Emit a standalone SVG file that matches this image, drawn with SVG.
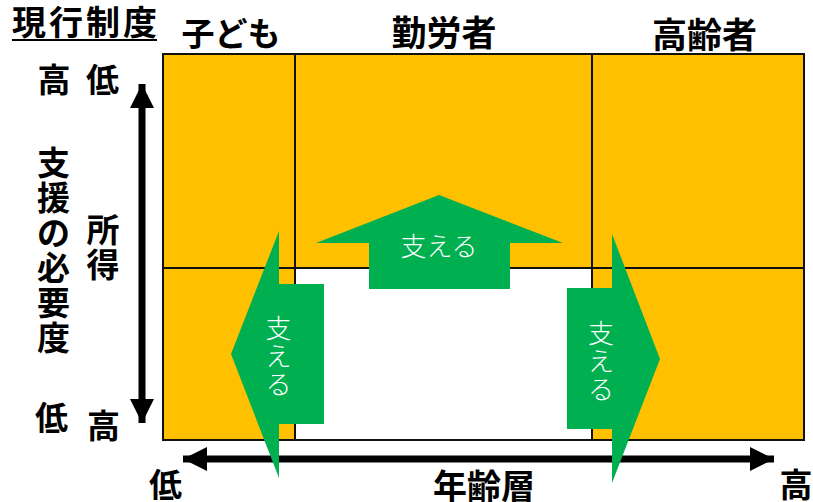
<svg xmlns="http://www.w3.org/2000/svg" width="813" height="502" viewBox="0 0 813 502">
<defs>
<style>
.lbl{font-family:"Noto Sans CJK JP","Noto Sans CJK SC",sans-serif;font-weight:700;fill:#000;text-anchor:middle;dominant-baseline:central}
.sup{font-family:"Noto Sans CJK JP","Noto Sans CJK SC",sans-serif;font-weight:300;fill:#fff;text-anchor:middle;dominant-baseline:central;font-size:26px}
.grid{stroke:#111;stroke-width:2;fill:none}
.green{fill:#00B050}
.axis{stroke:#000;stroke-width:7}
</style>
<marker id="ah" markerUnits="userSpaceOnUse" markerWidth="26" markerHeight="26" refX="24" refY="12" orient="auto-start-reverse" viewBox="0 0 26 24">
<path d="M0,0 L24,12 L0,24 Z" fill="#000"/>
</marker>
</defs>
<rect width="813" height="502" fill="#fff"/>
<g id="grid">
<rect x="163" y="54" width="641" height="386" fill="#FFC000"/>
<rect x="295" y="268" width="297" height="172" fill="#fff"/>
<rect class="grid" x="163" y="54" width="641" height="386"/>
<line class="grid" x1="295" y1="54" x2="295" y2="440"/>
<line class="grid" x1="592" y1="54" x2="592" y2="440"/>
<line class="grid" x1="163" y1="268" x2="804" y2="268"/>
</g>
<g id="connectors">
<line class="axis" x1="183" y1="459" x2="774" y2="459" marker-start="url(#ah)" marker-end="url(#ah)"/>
<line class="axis" x1="142" y1="84" x2="142" y2="423" marker-start="url(#ah)" marker-end="url(#ah)"/>
</g>
<g id="arrow-up">
<polygon class="green" points="439,195 563,243 510,243 510,289 369,289 369,243 316,243"/>
<text class="sup" x="439" y="244">支える</text>
</g>
<g id="arrow-left">
<polygon class="green" points="324,284 279,284 279,231 231,354 279,478 279,424 324,424"/>
<text class="sup" x="278.5" y="326">支</text>
<text class="sup" x="278.5" y="354">え</text>
<text class="sup" x="278.5" y="382">る</text>
</g>
<g id="arrow-right">
<polygon class="green" points="567,288 612,288 612,234 660,359 612,483 612,429 567,429"/>
<text class="sup" x="601" y="331">支</text>
<text class="sup" x="601" y="359">え</text>
<text class="sup" x="601" y="387">る</text>
</g>
<g id="title">
<text class="lbl" x="84.5" y="20" font-size="34" textLength="145" lengthAdjust="spacing">現行制度</text>
<rect x="12" y="39" width="145" height="2" fill="#000"/>
</g>
<g id="headers">
<text class="lbl" x="231" y="32" font-size="33">子ども</text>
<text class="lbl" x="444" y="30" font-size="35">勤労者</text>
<text class="lbl" x="704.5" y="32" font-size="35">高齢者</text>
</g>
<g id="y-axis-labels">
<text class="lbl" x="54" y="78" font-size="33">高</text>
<text class="lbl" x="102.5" y="78" font-size="33">低</text>
<text class="lbl" x="53.5" y="160.5" font-size="33">支</text>
<text class="lbl" x="53.5" y="195.5" font-size="33">援</text>
<text class="lbl" x="53.5" y="230.5" font-size="33">の</text>
<text class="lbl" x="53.5" y="265.5" font-size="33">必</text>
<text class="lbl" x="53.5" y="300.5" font-size="33">要</text>
<text class="lbl" x="53.5" y="335.5" font-size="33">度</text>
<text class="lbl" x="103" y="227.5" font-size="33">所</text>
<text class="lbl" x="103" y="262.5" font-size="33">得</text>
<text class="lbl" x="51.5" y="416" font-size="33">低</text>
<text class="lbl" x="103.5" y="424" font-size="33">高</text>
</g>
<g id="x-axis-labels">
<text class="lbl" x="165.5" y="483" font-size="33">低</text>
<text class="lbl" x="484" y="484" font-size="34">年齢層</text>
<text class="lbl" x="796" y="483" font-size="33">高</text>
</g>
</svg>
